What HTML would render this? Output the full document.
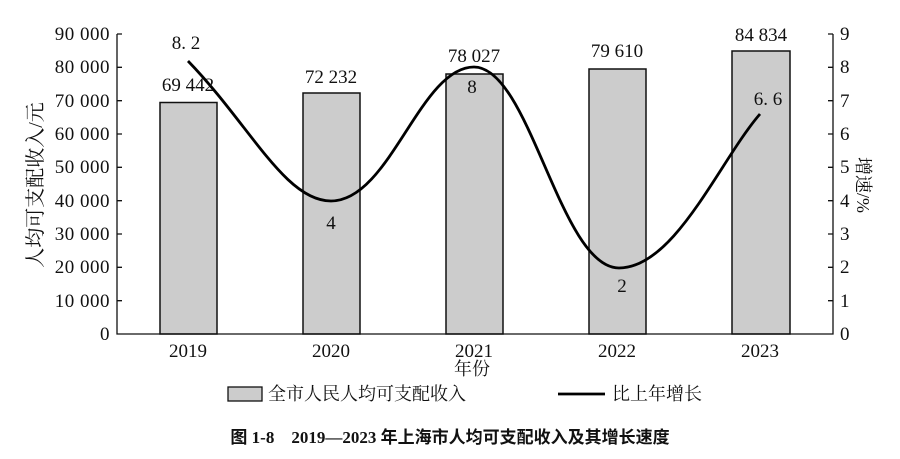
<!DOCTYPE html>
<html><head><meta charset="utf-8"><style>
body{margin:0;background:#fff}
svg text{font-family:"Liberation Serif","Noto Serif CJK SC",serif;fill:#111}
.c{font-family:"Liberation Serif","Noto Serif CJK SC",serif}
</style></head><body>
<svg width="900" height="454" viewBox="0 0 900 454" xmlns="http://www.w3.org/2000/svg">
<g stroke="#111" stroke-width="1.5" fill="#cccccc">
<rect x="160" y="102.5" width="57" height="231.5"/>
<rect x="303" y="93" width="57" height="241"/>
<rect x="446" y="74" width="57" height="260"/>
<rect x="589" y="69" width="57" height="265"/>
<rect x="732" y="51" width="58" height="283"/>
</g>
<g stroke="#111" stroke-width="1.3" fill="none">
<path d="M117,34V334H833V34"/>
<path d="M117,34h5M117,67.3h5M117,100.7h5M117,134h5M117,167.3h5M117,200.7h5M117,234h5M117,267.3h5M117,300.7h5"/>
<path d="M833,34h-5M833,67.3h-5M833,100.7h-5M833,134h-5M833,167.3h-5M833,200.7h-5M833,234h-5M833,267.3h-5M833,300.7h-5"/>
</g>
<path d="M188,61 C250,125 285,201 331,201 C390,201 420,67 474,67 C530,67 560,268 619,268 C675,268 720,160 760,114" stroke="#000" stroke-width="2.8" fill="none"/>
<g font-size="19" text-anchor="end" letter-spacing="0.5">
<text x="110" y="40">90 000</text><text x="110" y="73">80 000</text><text x="110" y="107">70 000</text>
<text x="110" y="140">60 000</text><text x="110" y="173">50 000</text><text x="110" y="207">40 000</text>
<text x="110" y="240">30 000</text><text x="110" y="273">20 000</text><text x="110" y="307">10 000</text>
<text x="110" y="340">0</text>
</g>
<g font-size="19">
<text x="840" y="40">9</text><text x="840" y="73">8</text><text x="840" y="107">7</text><text x="840" y="140">6</text>
<text x="840" y="173">5</text><text x="840" y="207">4</text><text x="840" y="240">3</text><text x="840" y="273">2</text>
<text x="840" y="307">1</text><text x="840" y="340">0</text>
</g>
<g font-size="19" text-anchor="middle">
<text x="188" y="357">2019</text><text x="331" y="357">2020</text><text x="474" y="357">2021</text>
<text x="617" y="357">2022</text><text x="760" y="357">2023</text>
<text x="188" y="91">69 442</text><text x="331" y="83">72 232</text><text x="474" y="62">78 027</text>
<text x="617" y="57">79 610</text><text x="761" y="41">84 834</text>
<text x="186" y="49">8. 2</text><text x="331" y="229">4</text><text x="472" y="93">8</text>
<text x="622" y="292">2</text><text x="768" y="105">6. 6</text>
<text x="472" y="375" class="c" font-size="18">年份</text>
</g>
<text class="c" font-size="20" text-anchor="middle" transform="translate(42,185) rotate(-90)">人均可支配收入/元</text>
<text class="c" font-size="18" text-anchor="middle" transform="translate(857,185) rotate(90)">增速/%</text>
<rect x="228" y="387" width="34" height="14" fill="#ccc" stroke="#111" stroke-width="1.3"/>
<text x="268" y="400" class="c" font-size="18">全市人民人均可支配收入</text>
<line x1="558" y1="394" x2="605" y2="394" stroke="#000" stroke-width="2.8"/>
<text x="612" y="400" class="c" font-size="18">比上年增长</text>
<text x="450" y="443" font-size="17" font-weight="bold" text-anchor="middle" style="font-family:'Liberation Serif','Noto Sans CJK SC',sans-serif">图 1-8　2019—2023 年上海市人均可支配收入及其增长速度</text>
</svg>
</body></html>
